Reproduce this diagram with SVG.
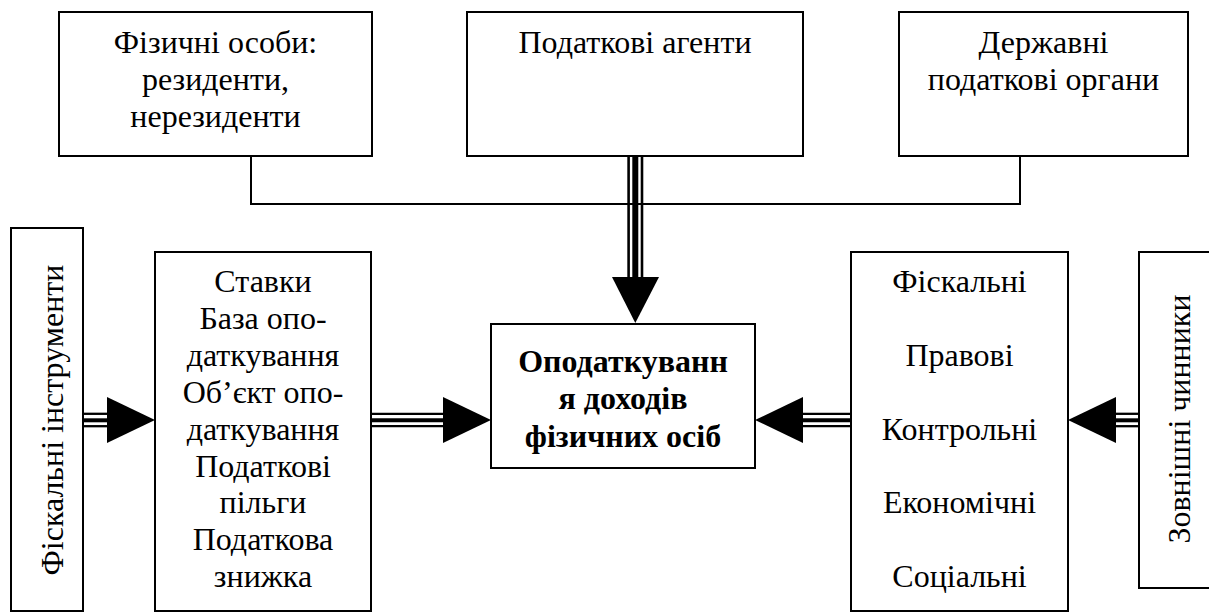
<svg xmlns="http://www.w3.org/2000/svg" width="1209" height="612" viewBox="0 0 1209 612">
<style>
.box{fill:#fff;stroke:#000;stroke-width:2}
.t{font-family:'Liberation Serif',Tinos,'Times New Roman',Times,'DejaVu Serif',serif;font-size:32px;fill:#000;text-anchor:middle}
.b{font-weight:bold}
.ln{stroke:#000;stroke-width:2;fill:none}
.head{fill:#000;stroke:none}
</style>
<rect width="1209" height="612" fill="#fff"/>
<g id="n-fizychni">
<rect class="box" x="59" y="12" width="313" height="144"/>
<text class="t" x="215.5" y="53" font-family="Liberation Serif, serif">Фізичні особи:</text>
<text class="t" x="215.5" y="90">резиденти,</text>
<text class="t" x="215.5" y="126.5">нерезиденти</text>
</g>
<g id="n-agenty">
<rect class="box" x="467" y="12" width="336" height="144"/>
<text class="t" x="635" y="53">Податкові агенти</text>
</g>
<g id="n-organy">
<rect class="box" x="899" y="12" width="289" height="144"/>
<text class="t" x="1043.5" y="53">Державні</text>
<text class="t" x="1043.5" y="90">податкові органи</text>
</g>
<g id="n-instrumenty">
<rect class="box" x="11" y="228" width="72" height="383"/>
<text class="t" transform="translate(63,420) rotate(-90)">Фіскальні інструменти</text>
</g>
<g id="n-stavky">
<rect class="box" x="155" y="252" width="216" height="359"/>
<text class="t" x="263" y="292">Ставки</text>
<text class="t" x="263" y="329">База опо-</text>
<text class="t" x="263" y="366">даткування</text>
<text class="t" x="263" y="403">Об’єкт опо-</text>
<text class="t" x="263" y="439.5">даткування</text>
<text class="t" x="263" y="476.5">Податкові</text>
<text class="t" x="263" y="513">пільги</text>
<text class="t" x="263" y="550">Податкова</text>
<text class="t" x="263" y="586.5">знижка</text>
</g>
<g id="n-center">
<rect class="box" x="491" y="324" width="264" height="144"/>
<text class="t b" x="623" y="371.5">Оподаткуванн</text>
<text class="t b" x="623" y="409">я доходів</text>
<text class="t b" x="623" y="446.5">фізичних осіб</text>
</g>
<g id="n-funktsii">
<rect class="box" x="851" y="252" width="217" height="359"/>
<text class="t" x="959.5" y="292">Фіскальні</text>
<text class="t" x="959.5" y="365.5">Правові</text>
<text class="t" x="959.5" y="439.5">Контрольні</text>
<text class="t" x="959.5" y="513">Економічні</text>
<text class="t" x="959.5" y="586.5">Соціальні</text>
</g>
<g id="n-chynnyky">
<rect class="box" x="1139" y="252" width="80" height="336"/>
<text class="t" transform="translate(1190,419) rotate(-90)">Зовнішні чинники</text>
</g>
<g id="connectors">
<polyline class="ln" points="251,156 251,204 1020,204 1020,156"/>
<line x1="628.6" y1="157" x2="628.6" y2="278" stroke="#000" stroke-width="2.6"/>
<line x1="635.3" y1="157" x2="635.3" y2="278" stroke="#000" stroke-width="6"/>
<line x1="642" y1="157" x2="642" y2="278" stroke="#000" stroke-width="2.6"/>
<polygon class="head" points="612,277 659,277 635.3,323"/>
<g stroke="#000">
<line x1="84" y1="413.8" x2="108" y2="413.8" stroke-width="2.3"/>
<line x1="84" y1="420.3" x2="108" y2="420.3" stroke-width="4"/>
<line x1="84" y1="426.2" x2="108" y2="426.2" stroke-width="2.3"/>
</g>
<polygon class="head" points="107,397 107,443 155,420"/>
<g stroke="#000">
<line x1="372" y1="413.8" x2="444" y2="413.8" stroke-width="2.3"/>
<line x1="372" y1="420.3" x2="444" y2="420.3" stroke-width="4"/>
<line x1="372" y1="426.2" x2="444" y2="426.2" stroke-width="2.3"/>
</g>
<polygon class="head" points="443,397 443,443 491,420"/>
<g stroke="#000">
<line x1="802" y1="413.8" x2="850" y2="413.8" stroke-width="2.3"/>
<line x1="802" y1="420.3" x2="850" y2="420.3" stroke-width="4"/>
<line x1="802" y1="426.2" x2="850" y2="426.2" stroke-width="2.3"/>
</g>
<polygon class="head" points="803,397 803,443 755,420"/>
<g stroke="#000">
<line x1="1115" y1="413.8" x2="1138" y2="413.8" stroke-width="2.3"/>
<line x1="1115" y1="420.3" x2="1138" y2="420.3" stroke-width="4"/>
<line x1="1115" y1="426.2" x2="1138" y2="426.2" stroke-width="2.3"/>
</g>
<polygon class="head" points="1116,397 1116,443 1068,420"/>
</g>
</svg>
